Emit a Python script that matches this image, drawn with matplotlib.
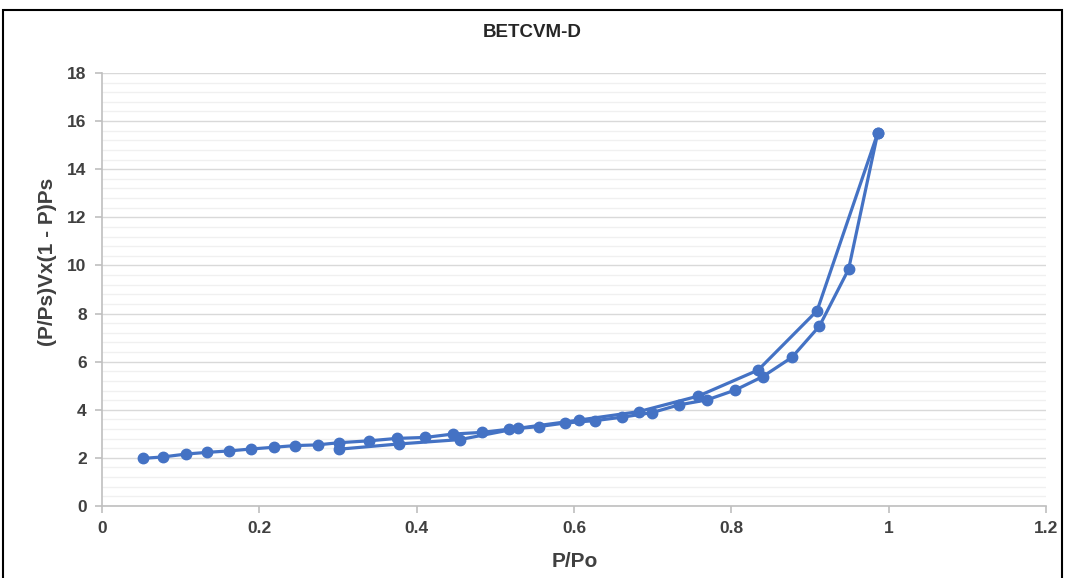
import matplotlib.pyplot as plt
from matplotlib.patches import Rectangle
from matplotlib.ticker import MultipleLocator

# adsorption branch, P/Po vs BET transform
ads_p = [0.0525, 0.078, 0.107, 0.134, 0.162, 0.190, 0.218, 0.245, 0.274, 0.301,
         0.340, 0.375, 0.411, 0.446, 0.483, 0.517, 0.555, 0.589, 0.627, 0.661,
         0.699, 0.733, 0.769, 0.805, 0.840, 0.877, 0.912, 0.949, 0.986]
ads_y = [1.98, 2.04, 2.16, 2.23, 2.29, 2.37, 2.44, 2.51, 2.54, 2.63,
         2.71, 2.81, 2.85, 2.99, 3.06, 3.19, 3.30, 3.45, 3.55, 3.69,
         3.88, 4.20, 4.41, 4.82, 5.38, 6.18, 7.48, 9.84, 15.5]

# desorption branch
des_p = [0.986, 0.909, 0.834, 0.758, 0.682, 0.606, 0.529, 0.455, 0.378, 0.301]
des_y = [15.5, 8.12, 5.65, 4.57, 3.92, 3.57, 3.23, 2.76, 2.58, 2.36]

blue = "#4472C4"
txt = "#404040"
plt.rcParams["font.family"] = ["Liberation Sans", "DejaVu Sans"]

fig = plt.figure(figsize=(10.65, 5.78), dpi=100)
ax = fig.add_axes([0.0958, 0.1246, 0.8864, 0.7491])

for p, y in [(ads_p, ads_y), (des_p, des_y)]:
    ax.plot(p, y, color=blue, lw=2.3, marker="o", ms=7.5, zorder=3)

ax.set_xlim(0, 1.2)
ax.set_ylim(0, 18)
ax.xaxis.set_major_locator(MultipleLocator(0.2))
ax.yaxis.set_major_locator(MultipleLocator(2))
ax.yaxis.set_minor_locator(MultipleLocator(0.4))
ax.set_xticklabels([f"{v:g}" for v in ax.get_xticks()])

ax.grid(True, axis="y", which="major", color="#d9d9d9", lw=1.0, zorder=0)
ax.grid(True, axis="y", which="minor", color="#f0f0f0", lw=1.0, zorder=0)
ax.set_axisbelow(True)

for s in ["top", "right"]:
    ax.spines[s].set_visible(False)
for s in ["left", "bottom"]:
    ax.spines[s].set_color("#bfbfbf")
    ax.spines[s].set_linewidth(1.2)
ax.tick_params(which="major", length=5, color="#bfbfbf", width=1.2,
               labelsize=12.5, labelcolor=txt, pad=6)
ax.tick_params(which="minor", length=0)
for lab in ax.get_xticklabels() + ax.get_yticklabels():
    lab.set_fontweight("bold")

fig.text(0.5, 0.943, "BETCVM-D", ha="center", va="center",
         fontsize=13.5, fontweight="bold", color="#262626")
fig.text(0.54, 0.028, "P/Po", ha="center", va="center",
         fontsize=15, fontweight="bold", color=txt)
fig.text(0.045, 0.547, "(P/Ps)Vx(1 - P)Ps", ha="center", va="center",
         rotation=90, fontsize=15, fontweight="bold", color=txt)

# outer chart border
fig.patches.append(Rectangle((0.003, -0.01), 0.994, 0.993, transform=fig.transFigure,
                             fill=False, ec="black", lw=1.5))

fig.savefig("out.png", dpi=100)
